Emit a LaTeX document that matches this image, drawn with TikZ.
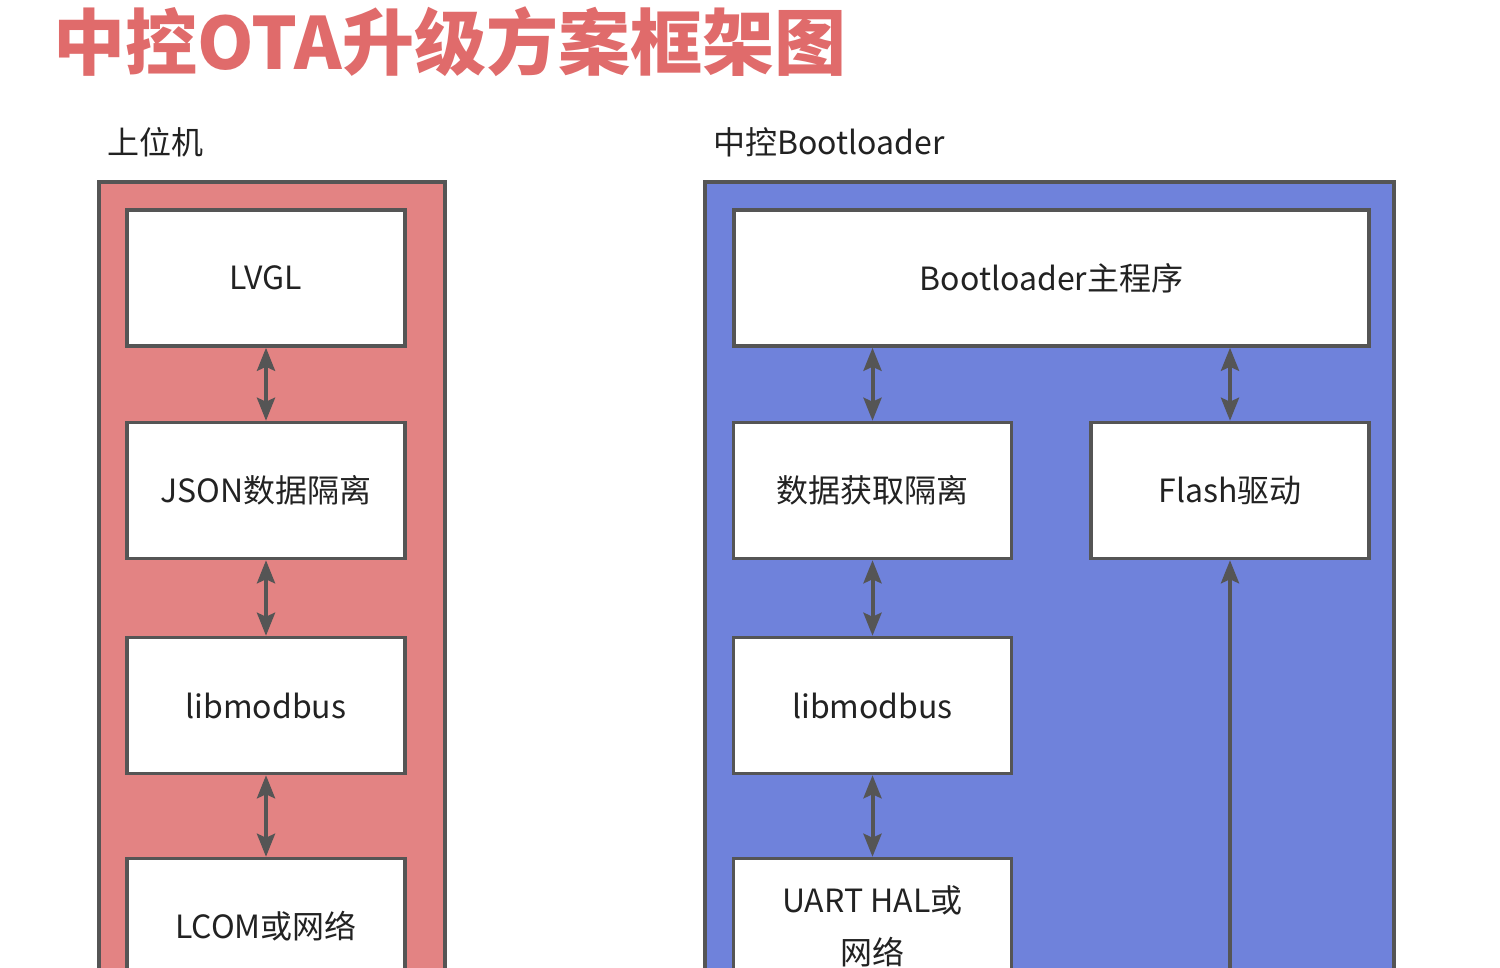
\documentclass[tikz,border=0pt]{standalone}
\usepackage{fontspec}
\setmainfont{Noto Sans CJK SC}
\usepackage{tikz}
\usetikzlibrary{arrows.meta}
\definecolor{titlered}{HTML}{E06B6B}
\definecolor{hostred}{HTML}{E38383}
\definecolor{bootblue}{HTML}{6F82DB}
\definecolor{edgegray}{HTML}{555555}
\definecolor{ink}{HTML}{222222}

\tikzset{
  blk/.style={draw=edgegray, line width=3.5pt, fill=white, text=ink, minimum width=278pt, minimum height=136pt, inner sep=0pt, align=center, font=\fontsize{32}{52}\selectfont},
  cont/.style={draw=edgegray, line width=4pt},
  tip/.tip={Stealth[length=23pt,width=18pt,inset=4pt]},
  link/.style={draw=edgegray, line width=4pt, tip-tip},
  feed/.style={draw=edgegray, line width=4pt, -tip},
}

\begin{document}
\begin{tikzpicture}[x=1pt,y=-1pt]
\clip (0,0) rectangle (1500,967);
\fill[white] (0,0) rectangle (1500,967);

\node[anchor=west, text=titlered, font=\fontsize{72}{80}\selectfont\bfseries] (title) at (50,42) {中控OTA升级方案框架图};
\node[anchor=west, text=ink, font=\fontsize{32}{36}\selectfont] (hostlbl) at (104,142) {上位机};
\node[anchor=west, text=ink, font=\fontsize{32}{36}\selectfont] (bootlbl) at (710,142) {中控Bootloader};

\draw[cont, fill=hostred] (99,182) rectangle (445,1100);
\draw[cont, fill=bootblue] (705,182) rectangle (1394,1100);

% host side
\node[blk] (lvgl) at (266,278) {LVGL};
\node[blk] (json) at (266,490.5) {JSON数据隔离};
\node[blk] (hostmb) at (266,705.5) {libmodbus};
\node[blk] (lcom) at (266,926.5) {LCOM或网络};

% bootloader side
\node[blk, minimum width=635pt] (bootmain) at (1051.5,278) {Bootloader主程序};
\node[blk] (fetch) at (872.5,490.5) {数据获取隔离};
\node[blk] (flash) at (1230,490.5) {Flash驱动};
\node[blk] (bootmb) at (872.5,705.5) {libmodbus};
\node[blk] (uart) at (872.5,926.5) {UART HAL或\\网络};
\coordinate (flashin) at (1230,1000);

\draw[link] (lvgl) -- (json);
\draw[link] (json) -- (hostmb);
\draw[link] (hostmb) -- (lcom);
\draw[link] (bootmain.south -| fetch) -- (fetch);
\draw[link] (bootmain.south -| flash) -- (flash);
\draw[link] (fetch) -- (bootmb);
\draw[link] (bootmb) -- (uart);
\draw[feed] (flashin) -- (flash);
\end{tikzpicture}
\end{document}
